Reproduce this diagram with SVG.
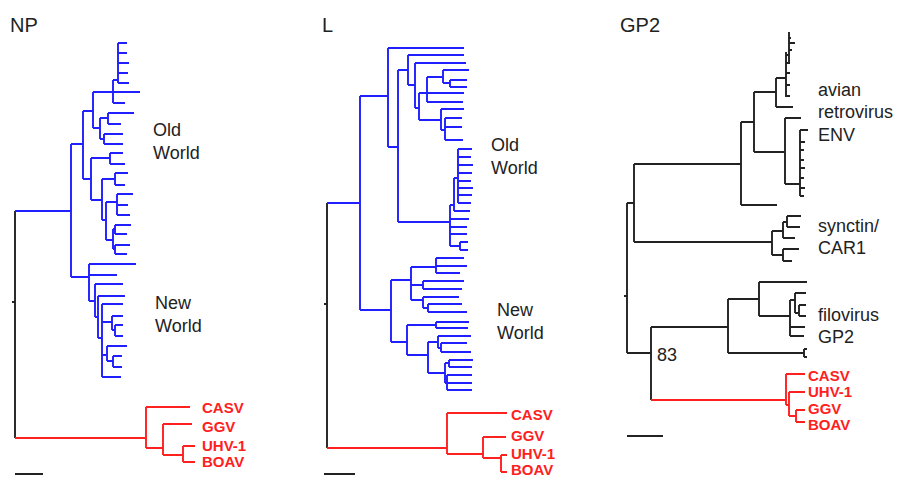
<svg xmlns="http://www.w3.org/2000/svg" width="897" height="479" viewBox="0 0 897 479">
<style>
.b{fill:none;stroke:#1f1fff;stroke-width:1.9}
.r{fill:none;stroke:#ff2020;stroke-width:1.9}
.k{fill:none;stroke:#222;stroke-width:1.9}
text{font-family:"Liberation Sans",Arial,sans-serif}
.t{font-size:20px;fill:#222}
.lab{font-size:18px;fill:#222}
.rl{font-size:15px;fill:#ff2020;font-weight:bold}
</style>
<rect width="897" height="479" fill="#fff"/>
<g id="connectors">
<!-- NP -->
<path class="k" d="M15 211V438M12 302H15M15 474H43"/>
<path class="b" d="M15 211H71M71 144V277M71 144H83M83 111V179M83 111H93M93 92V128M93 92H140M113 80V103M113 80H118M118 43V83M118 43H127M118 53H127M118 63H129M118 73H128M118 83H129M113 103H125M93 128H100M100 118V139M100 118H108M108 113V124M108 113H134M108 124H121M100 139H104M104 134V144M104 134H123M104 144H123M83 179H91M91 158V200M91 158H110M110 153V164M110 153H123M110 164H125M91 200H102M102 179V220M102 179H115M115 173V185M115 173H128M115 185H125M102 220H106M106 202V240M106 202H117M117 194V215M117 194H133M117 205H128M117 215H130M106 240H113M113 229V249M113 229H115M115 225V234M115 225H131M115 234H127M113 249H115M115 245V254M115 245H130M115 254H127"/>
<path class="b" d="M71 277H89M89 264V301M89 264H136M89 275H117M89 301H95M95 284V317M95 284H123M95 317H98M98 296V338M98 296H125M98 338H102M102 304V377M102 304H123M102 322H112M112 316V330M112 316H123M112 330H115M115 325V336M115 325H123M115 336H123M102 355H107M107 346V361M107 346H127M107 361H113M113 356V367M113 356H122M113 367H122M102 377H121"/>
<path class="r" d="M15 438H146M146 407V448M146 407H190M146 448H163M163 424V455M163 424H192M163 455H183M183 446V462M183 446H195M183 462H195"/>
<!-- L -->
<path class="k" d="M327 203V448M324 304H327M324 474H355"/>
<path class="b" d="M327 203H360M360 96V310M360 96H388M388 48V147M388 48H464M388 147H398M398 70V222M398 70H408M408 55V85M408 55H464M408 85H415M415 63V108M415 63H466M415 108H419M419 93V120M419 93H427M427 77V102M427 77H443M443 70V83M443 70H469M443 83H450M450 80V87M450 80H467M450 87H467M427 93H464M427 102H463M419 120H441M441 109V130M441 109H464M441 130H445M445 118V140M445 118H462M445 127H462M445 140H463"/>
<path class="b" d="M398 222H450M450 205V246M450 205H454M454 178V211M454 211H470M454 178H458M458 149V203M458 149H472M458 157H471M458 165H473M458 173H472M458 181H471M458 188H473M458 195H472M458 203H471M450 219H469M450 227H467M450 234H467M450 246H460M460 242V250M460 242H468M460 250H468"/>
<path class="b" d="M360 310H391M391 280V342M391 280H411M411 267V300M411 267H436M436 258V273M436 258H464M436 266H467M436 273H460M411 285H423M423 281V289M423 281H464M423 289H462M411 300H423M423 297V308M423 297H459M423 308H428M428 304V312M428 304H462M428 312H467M391 342H407M407 325V355M407 325H436M436 322V328M436 322H469M436 328H468M407 355H428M428 342V373M428 342H438M438 336V348M438 336H471M438 348H441M441 343V352M441 343H467M441 352H471M428 373H445M445 363V383M445 363H449M449 360V367M449 360H473M449 367H472M445 383H447M447 375V390M447 375H472M447 383H472M447 390H472"/>
<path class="r" d="M327 448H447M447 413V454M447 413H507M447 454H483M483 437V458M483 437H506M483 458H501M501 455V472M501 455H507M501 472H507"/>
<!-- GP2 -->
<path class="k" d="M627 203V353M624 296H627M627 436H663"/>
<path class="k" d="M627 203H634M634 164V242M634 164H741M741 122V205M741 205H777M741 122H754M754 92V152M754 92H776M776 78V107M776 107H793M776 78H786M786 52V97M786 63H790M786 73H790M786 85H790M786 96H790M786 55H789M789 32V63M789 43H795M789 50H792M789 38H791M754 152H785M785 118V184M785 118H801M785 184H800M800 130V196M800 130H808M800 142H805M800 150H804M800 160H804M800 168H805M800 178H804M800 188H805M800 196H804"/>
<path class="k" d="M634 242H772M772 231V255M772 231H783M783 222V238M783 222H787M787 216V227M787 216H801M787 227H800M783 238H795M772 255H783M783 249V261M783 249H799M783 261H792"/>
<path class="k" d="M627 353H651M651 327V400M651 327H728M728 299V353M728 299H759M759 282V316M759 282H807M759 316H790M790 300V336M790 300H795M795 293V313M795 293H806M795 313H799M799 305V316M799 305H806M799 316H806M790 327H805M790 336H804M728 353H804M804 349V357M804 349H807M804 357H807"/>
<path class="r" d="M651 400H786M786 374V405M786 374H805M786 405H789M789 392V416M789 392H805M789 416H796M796 410V422M796 410H805M796 422H805"/>
</g>
<g id="titles">
<text class="t" x="10" y="32">NP</text>
<text class="t" x="322" y="32">L</text>
<text class="t" x="620" y="32">GP2</text>
</g>
<g id="np-old"><text class="lab" x="153" y="136">Old</text><text class="lab" x="153" y="159">World</text></g>
<g id="np-new"><text class="lab" x="155" y="309">New</text><text class="lab" x="155" y="332">World</text></g>
<g id="np-red">
<text class="rl" x="202" y="413">CASV</text>
<text class="rl" x="202" y="432">GGV</text>
<text class="rl" x="202" y="451">UHV-1</text>
<text class="rl" x="202" y="467">BOAV</text>
</g>
<g id="l-old"><text class="lab" x="491" y="151">Old</text><text class="lab" x="491" y="174">World</text></g>
<g id="l-new"><text class="lab" x="497" y="316">New</text><text class="lab" x="497" y="339">World</text></g>
<g id="l-red">
<text class="rl" x="511" y="420">CASV</text>
<text class="rl" x="511" y="441">GGV</text>
<text class="rl" x="511" y="459">UHV-1</text>
<text class="rl" x="511" y="475">BOAV</text>
</g>
<g id="gp2-avian"><text class="lab" x="818" y="96">avian</text><text class="lab" x="818" y="118">retrovirus</text><text class="lab" x="818" y="141">ENV</text></g>
<g id="gp2-syncytin"><text class="lab" x="818" y="232">synctin/</text><text class="lab" x="818" y="254">CAR1</text></g>
<g id="gp2-filo"><text class="lab" x="818" y="321">filovirus</text><text class="lab" x="818" y="343">GP2</text></g>
<g id="gp2-83"><text class="lab" x="657" y="361">83</text></g>
<g id="gp2-red">
<text class="rl" x="808" y="381">CASV</text>
<text class="rl" x="808" y="397">UHV-1</text>
<text class="rl" x="808" y="414">GGV</text>
<text class="rl" x="808" y="430">BOAV</text>
</g>
</svg>
